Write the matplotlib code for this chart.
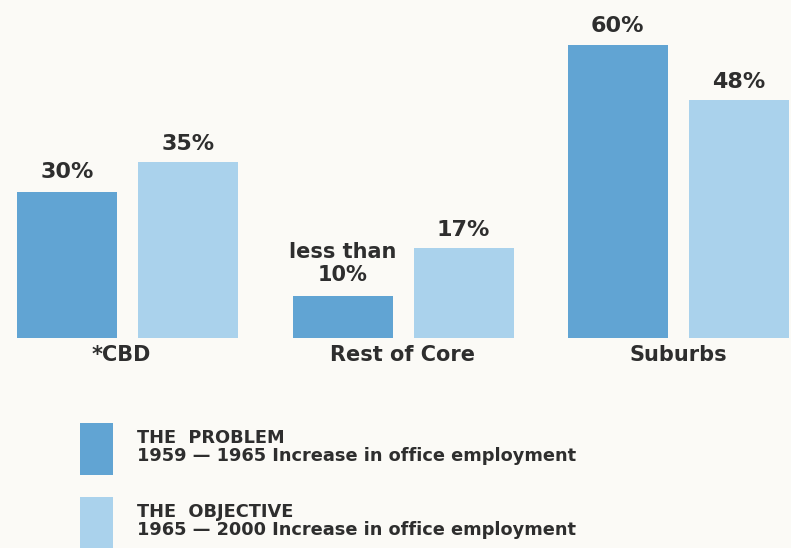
import matplotlib
matplotlib.use("Agg")
import matplotlib.pyplot as plt
from matplotlib.patches import Patch
import numpy as np

# ---- data ----
categories = ["*CBD", "Rest of Core", "Suburbs"]
problem_heights = [30, 8.6, 60]          # 1959-1965 (bar heights as drawn)
objective_heights = [36, 18.4, 48.7]     # 1965-2000 (bar heights as drawn)
problem_labels = ["30%", "less than\n10%", "60%"]
objective_labels = ["35%", "17%", "48%"]
legend_labels = ["THE  PROBLEM\n1959 — 1965 Increase in office employment",
                 "THE  OBJECTIVE\n1965 — 2000 Increase in office employment"]

# ---- style ----
BG = "#fbfaf6"
DARK = "#61a4d3"
LIGHT = "#aad2ec"
TXT = "#2e2e2e"
plt.rcParams["font.family"] = ["DejaVu Sans"]
plt.rcParams["font.weight"] = "bold"

W, H = 791, 548
fig = plt.figure(figsize=(W / 100, H / 100), dpi=100, facecolor=BG)
ax = fig.add_axes([0, 0, 1, 1])
ax.set_facecolor(BG)
ax.axis("off")

px_x = 275.0          # pixels per category
px_y = 293.0 / 60.0   # pixels per percent
x0_px, base_px = 128.0, 338.0
ax.set_xlim(-x0_px / px_x, (W - x0_px) / px_x)
ax.set_ylim(-(H - base_px) / px_y, base_px / px_y)

x = np.arange(len(categories))
width = 100 / px_x
off = 60.5 / px_x
b1 = ax.bar(x - off, problem_heights, width, color=DARK, linewidth=0)
b2 = ax.bar(x + off, objective_heights, width, color=LIGHT, linewidth=0)

for xi, h, lab in zip(x - off, problem_heights, problem_labels):
    multi = "\n" in lab
    ax.annotate(lab, xy=(xi, h), xytext=(0, 11 if multi else 9.5),
                textcoords="offset points",
                ha="center", va="baseline", fontsize=15 if multi else 16,
                fontweight="bold", color=TXT, linespacing=1.2,
                multialignment="center")
for xi, h, lab in zip(x + off, objective_heights, objective_labels):
    ax.annotate(lab, xy=(xi, h), xytext=(0, 8.5), textcoords="offset points",
                ha="center", va="baseline", fontsize=16, fontweight="bold",
                color=TXT)
for i, (xi, cat) in enumerate(zip(x, categories)):
    dx = -5 if cat.startswith("*") else 0
    ax.annotate(cat, xy=(xi, 0), xytext=(dx, -5), textcoords="offset points",
                ha="center", va="top", fontsize=15, fontweight="bold",
                color=TXT)

fs_leg = 12.75
fpx = fs_leg * 100 / 72
# legend handle height = fs*hh - 0.35*fs*(hh-0.7)  -> solve for 52 px
hh = (52 / fpx - 0.245) / 0.65
handles = [Patch(facecolor=DARK, linewidth=0), Patch(facecolor=LIGHT, linewidth=0)]
leg = fig.legend(handles, legend_labels, loc="upper left",
                 bbox_to_anchor=(80 / W, 1 - 423 / H), frameon=False,
                 borderpad=0, borderaxespad=0,
                 handleheight=hh, handlelength=33 / fpx,
                 handletextpad=24 / fpx, labelspacing=22 / fpx,
                 prop={"weight": "bold", "size": fs_leg})
for t in leg.get_texts():
    t.set_color(TXT)
    t.set_linespacing(1.02)

fig.savefig("out.png", dpi=100, facecolor=BG)
